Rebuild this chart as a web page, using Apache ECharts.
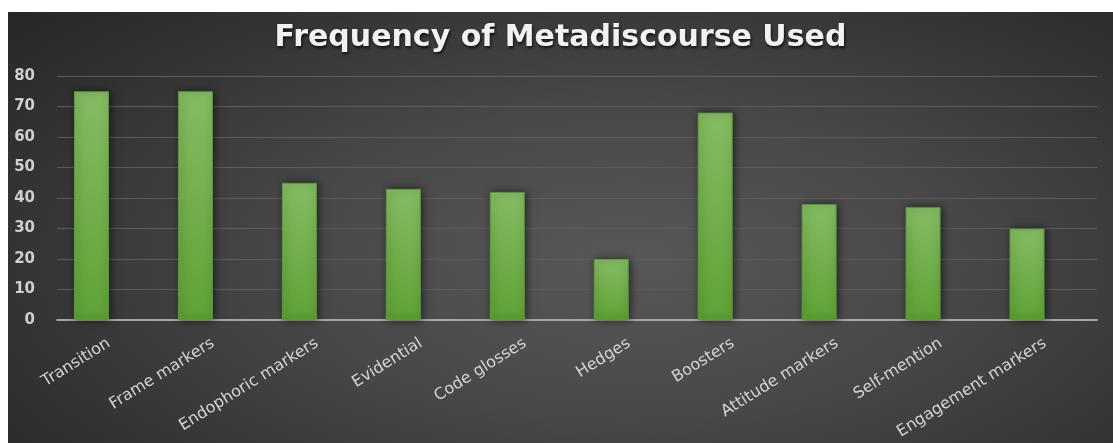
<!DOCTYPE html>
<html>
<head>
<meta charset="utf-8">
<script src="https://cdn.jsdelivr.net/npm/echarts@6/dist/echarts.min.js"></script>
<style>
html,body{margin:0;padding:0;background:#ffffff;width:1113px;height:443px;overflow:hidden;}
#chart{position:absolute;left:8px;top:12px;width:1105px;height:431px;
background:radial-gradient(ellipse 75% 90% at 56% 58%, #585858 0%, #484848 40%, #333333 75%, #262626 100%);}
</style>
</head>
<body>
<div id="chart"></div>
<script>
const titleText = 'Frequency of Metadiscourse Used';
const categories = ['Transition','Frame markers','Endophoric markers','Evidential','Code glosses','Hedges','Boosters','Attitude markers','Self-mention','Engagement markers'];
const values = [75, 75, 45, 43, 42, 20, 68, 38, 37, 30];
const yTicks = {min: 0, max: 80, interval: 10};

const chart = echarts.init(document.getElementById('chart'), null, {renderer: 'canvas'});
chart.setOption({
  backgroundColor: 'transparent',
  animation: false,
  title: {
    text: titleText,
    left: 'center',
    top: 6,
    textStyle: {
      color: '#f2f2f2',
      fontFamily: 'DejaVu Sans',
      fontWeight: 'bold',
      fontSize: 30,
      textShadowColor: 'rgba(0,0,0,0.7)',
      textShadowBlur: 3,
      textShadowOffsetX: 1,
      textShadowOffsetY: 2
    }
  },
  grid: [
    {left: 49, right: 16, top: 64, bottom: 123},
    {left: 31.5, right: 34, top: 64, bottom: 123}
  ],
  xAxis: [{
    type: 'category',
    gridIndex: 0,
    data: categories,
    axisTick: {show: false},
    axisLine: {lineStyle: {color: '#a6a6a6', width: 2}},
    axisLabel: {
      rotate: 32,
      interval: 0,
      color: '#d4d4d4',
      fontFamily: 'DejaVu Sans',
      fontSize: 16,
      margin: 22
    }
  }, {
    type: 'category',
    gridIndex: 1,
    data: categories,
    show: false
  }],
  yAxis: [{
    type: 'value',
    gridIndex: 0,
    min: yTicks.min, max: yTicks.max, interval: yTicks.interval,
    axisLine: {show: false},
    axisTick: {show: false},
    splitLine: {lineStyle: {color: '#5c5c5c', width: 1}},
    axisLabel: {
      color: '#cfcfcf',
      fontFamily: 'DejaVu Sans',
      fontWeight: 'bold',
      fontSize: 15,
      margin: 22
    }
  }, {
    type: 'value',
    gridIndex: 1,
    min: yTicks.min, max: yTicks.max, interval: yTicks.interval,
    show: false,
    splitLine: {show: false}
  }],
  series: [{
    type: 'bar',
    xAxisIndex: 1,
    yAxisIndex: 1,
    data: values,
    barWidth: '33.7%',
    itemStyle: {
      color: new echarts.graphic.LinearGradient(0, 0, 0, 1, [
        {offset: 0, color: '#84bc63'},
        {offset: 1, color: '#5ea234'}
      ]),
      borderColor: '#5b9a39',
      borderWidth: 1,
      shadowColor: 'rgba(0,0,0,0.55)',
      shadowBlur: 8,
      shadowOffsetX: 2,
      shadowOffsetY: 0
    }
  }]
});
</script>
</body>
</html>
